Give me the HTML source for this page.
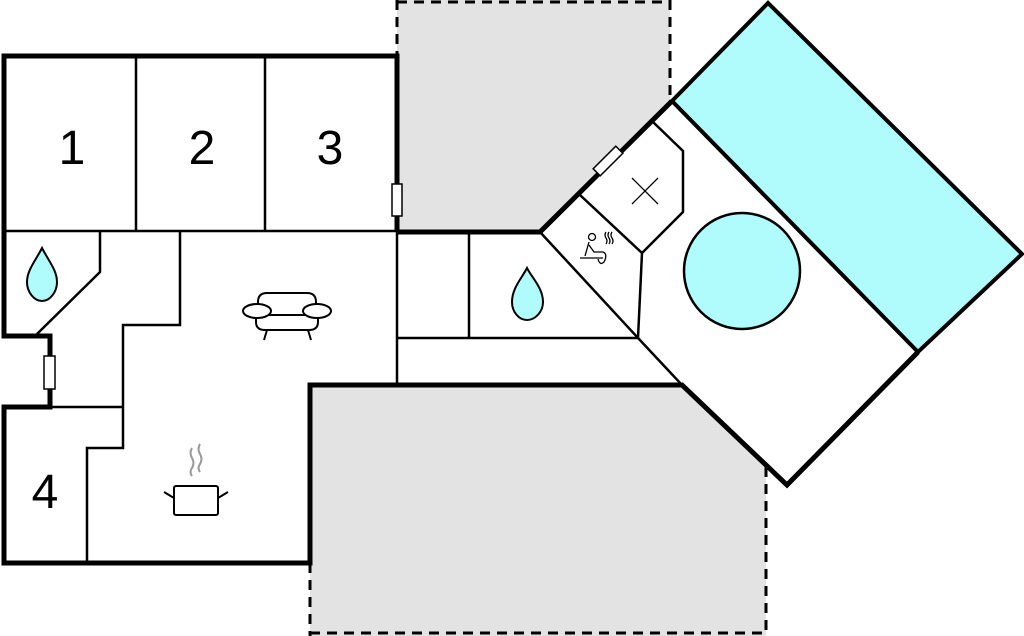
<!DOCTYPE html>
<html><head><style>body{margin:0;background:#fff}svg{display:block}</style></head><body>
<svg width="1024" height="636" viewBox="0 0 1024 636" xmlns="http://www.w3.org/2000/svg" font-family="Liberation Sans, sans-serif">
<!-- gray areas -->
<polygon points="397,0 670,0 670,102 540,232 397,232" fill="#e3e3e3"/>
<polygon points="310,385 682,385 766,467 766,636 310,636" fill="#e3e3e3"/>
<g stroke="#000" stroke-width="3" stroke-dasharray="10,7" fill="none">
<line x1="397" y1="2" x2="670" y2="2"/>
<line x1="397" y1="0" x2="397" y2="56"/>
<line x1="670" y1="0" x2="670" y2="100"/>
<line x1="310" y1="633" x2="766" y2="633"/>
<line x1="310" y1="563" x2="310" y2="636"/>
<line x1="766" y1="467" x2="766" y2="636"/>
</g>
<!-- pool -->
<polygon points="672,101 768,3 1022,254 918,352" fill="#b0fcfc" stroke="#000" stroke-width="4"/>
<line x1="672" y1="101" x2="918" y2="352" stroke="#000" stroke-width="2.5"/>
<circle cx="742" cy="271" r="58" fill="#b0fcfc" stroke="#000" stroke-width="2.5"/>
<!-- thin interior lines -->
<g stroke="#000" stroke-width="2.5" fill="none">
<line x1="136" y1="56" x2="136" y2="231"/>
<line x1="265" y1="56" x2="265" y2="231"/>
<line x1="4" y1="231" x2="397" y2="231"/>
<polyline points="100,231 100,272 37,334"/>
<polyline points="180,231 180,325 123,325 123,448 87,448 87,563"/>
<line x1="50" y1="407" x2="123" y2="407"/>
<line x1="397" y1="232" x2="397" y2="385"/>
<line x1="469" y1="232" x2="469" y2="338"/>
<line x1="397" y1="338" x2="638" y2="338"/>
<polyline points="540,232 638,338 682,385"/>
<polyline points="580,195 642,253 638,338"/>
<polyline points="653,122 683,151 683,212 642,253"/>
</g>
<!-- thick exterior walls -->
<g stroke="#000" stroke-width="5" fill="none" stroke-linejoin="miter">
<polyline points="397,232 397,56 4,56 4,336 50,336 50,407 4,407 4,563 310,563 310,385 682,385 787,485 918,352"/>
<polyline points="397,232 540,232 672,101"/>
</g>
<!-- doors -->
<rect x="392" y="184" width="10" height="32" fill="#fff" stroke="#000" stroke-width="1.5"/>
<rect x="44" y="356" width="11" height="33" fill="#fff" stroke="#000" stroke-width="1.5"/>
<rect x="-16" y="-5" width="32" height="10" fill="#fff" stroke="#000" stroke-width="1.5" transform="translate(608,161) rotate(-45)"/>
<!-- numbers -->
<g font-size="48" text-anchor="middle" fill="#000">
<text x="72" y="164">1</text><text x="202" y="164">2</text><text x="330" y="164">3</text><text x="45" y="508">4</text>
</g>
<!-- drops -->
<path d="M42,248 C36,260 27,270 27,282 C27,292 34,301 42,301 C50,301 57,292 57,282 C57,270 48,260 42,248 Z" fill="#b0fcfc" stroke="#000" stroke-width="2"/>
<path d="M527,268 C522,278 512,288 512,302 C512,312 519,320 527,320 C535,320 543,312 543,302 C543,288 532,278 527,268 Z" fill="#b0fcfc" stroke="#000" stroke-width="2"/>
<!-- sofa -->
<g stroke="#000" stroke-width="2" fill="#fff">
<path d="M258,315 V302 Q258,293 267,293 H307 Q316,293 316,302 V315"/>
<path d="M256,315 V322 Q256,330 265,330 H309 Q318,330 318,322 V315 Z"/>
<ellipse cx="257" cy="311" rx="14" ry="7"/>
<ellipse cx="317" cy="311" rx="14" ry="7"/>
<line x1="267" y1="330" x2="264" y2="340"/><line x1="308" y1="330" x2="311" y2="340"/>
</g>
<!-- pot -->
<g stroke="#000" stroke-width="2" fill="#fff">
<rect x="174" y="486" width="44" height="29" rx="2"/>
<line x1="174" y1="498" x2="164" y2="492"/><line x1="218" y1="498" x2="228" y2="492"/>
</g>
<g stroke="#999" stroke-width="2" fill="none">
<path d="M192,448 q-3,5 0,10 q3,5 0,10 q-3,4 0,8"/>
<path d="M200,444 q-3,5 0,10 q3,5 0,10 q-3,4 0,8"/>
</g>
<!-- cross -->
<g stroke="#000" stroke-width="1.3"><line x1="632" y1="178" x2="658" y2="204"/><line x1="658" y1="178" x2="632" y2="204"/></g>
<!-- sauna -->
<g stroke="#000" stroke-width="1.3" fill="none">
<circle cx="592" cy="237" r="3.5"/>
<path d="M589,242 L585,256 M580,258 H603 M589,245 L594,252 L603,252 Q608,254 604,262 Q600,266 598,259"/>
<path d="M606,232 q-2,3 0,6 q2,3 0,6 M609,232 q-2,3 0,6 q2,3 0,6 M612,232 q-2,3 0,6 q2,3 0,6"/>
</g>
</svg>
</body></html>
